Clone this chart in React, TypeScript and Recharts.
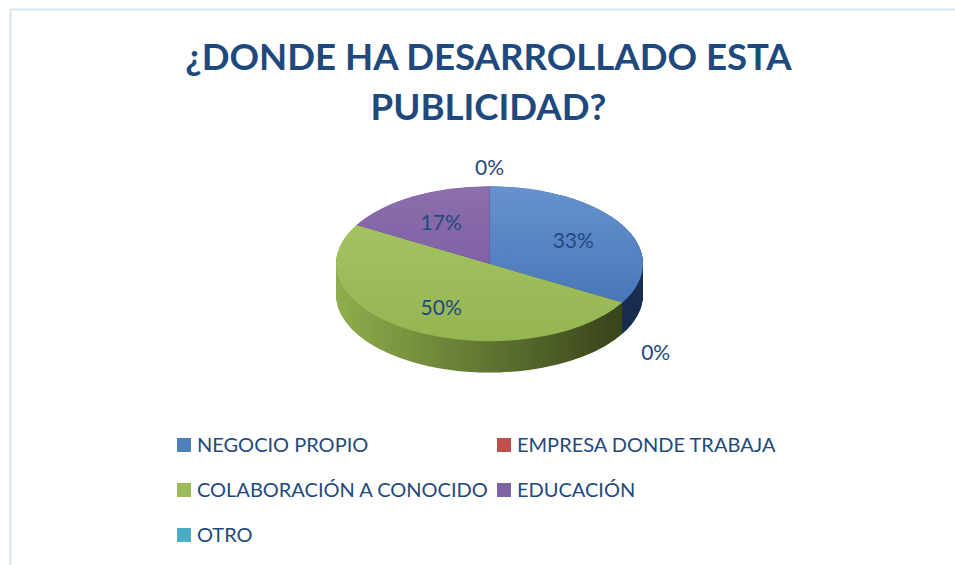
import { PieChart, Pie, Cell } from 'recharts';

const categories = ['NEGOCIO PROPIO', 'EMPRESA DONDE TRABAJA', 'COLABORACIÓN A CONOCIDO', 'EDUCACIÓN', 'OTRO'];
const responses = [2, 0, 3, 1, 0];
const titleLines = ['¿DONDE HA DESARROLLADO ESTA', 'PUBLICIDAD?'];

const legendColors = ['#4F81BD', '#C0504D', '#9BBB59', '#8064A2', '#4BACC6'];
const topStops = [
  ['#6693CF', '#3E6DB2'],
  ['#D06360', '#A9403D'],
  ['#A8C665', '#95B553'],
  ['#8C6FAD', '#74539F'],
  ['#5DBAD2', '#3A9AB3'],
];
const wallStops = [
  ['#24406B', '#172C4E'],
  ['#8E3432', '#6A2523'],
  ['#8FAE4C', '#3A461B'],
  ['#5B4480', '#3E2D5A'],
  ['#348BA2', '#22687A'],
];

const data = categories.map((name, i) => ({ name, value: responses[i] }));

// geometry of the fake 3D pie (unscaled units, the whole chart is squashed by K)
const K = 0.505;
const CX = 489.5;
const CY = 350;
const R = 153.5;
const DEPTH = 62;
const TOP = 264.2 - CY * K;
const layers: number[] = [];
for (let d = DEPTH; d > 0; d -= 1.5) layers.push(d);

const TEXT = '#1F497D';
const FONT = 'Lato, "Open Sans", sans-serif';

const renderLabel = (p: any) => {
  const a = (p.midAngle * Math.PI) / 180;
  const zero = p.value === 0;
  const f = zero ? 1.25 : 0.63;
  const x = p.cx + p.outerRadius * f * Math.cos(a);
  let y = p.cy - p.outerRadius * f * Math.sin(a);
  if (zero && Math.sin(a) < -0.1) y += DEPTH * 1.25;
  return (
    <text
      key={p.index}
      x={x}
      y={y}
      transform={`translate(${x} ${y}) scale(1 ${1 / K}) translate(${-x} ${-y})`}
      textAnchor="middle"
      dominantBaseline="central"
      fill={TEXT}
      fontFamily={FONT}
      fontSize={21}
    >
      {Math.round(p.percent * 100)}%
    </text>
  );
};

export default function App() {
  return (
    <div style={{ position: 'absolute', left: 0, top: 0, width: 955, height: 565, background: '#fff', overflow: 'hidden' }}>
      <div style={{ position: 'absolute', left: 0, top: TOP, width: 955, height: 700, transform: `scaleY(${K})`, transformOrigin: '0 0' }}>
        <PieChart width={955} height={700} margin={{ top: 0, right: 0, bottom: 0, left: 0 }}>
          <defs>
            {topStops.map((s, i) => (
              <linearGradient key={'t' + i} id={'top' + i} gradientUnits="userSpaceOnUse" x1={0} y1={CY - R} x2={0} y2={CY + R}>
                <stop offset="0%" stopColor={s[0]} />
                <stop offset="100%" stopColor={s[1]} />
              </linearGradient>
            ))}
            {wallStops.map((s, i) => (
              <linearGradient key={'w' + i} id={'wall' + i} gradientUnits="userSpaceOnUse" x1={CX - R} y1={0} x2={CX + R * 0.8} y2={0}>
                <stop offset="0%" stopColor={s[0]} />
                <stop offset="100%" stopColor={s[1]} />
              </linearGradient>
            ))}
          </defs>
          {layers.map((d) => (
            <Pie
              key={'layer' + d}
              data={data}
              dataKey="value"
              cx={CX}
              cy={CY + d}
              outerRadius={R}
              startAngle={90}
              endAngle={-270}
              stroke="none"
              label={false}
              labelLine={false}
              isAnimationActive={false}
            >
              {data.map((_, i) => (
                <Cell key={i} fill={`url(#wall${i})`} />
              ))}
            </Pie>
          ))}
          <Pie
            data={data}
            dataKey="value"
            cx={CX}
            cy={CY}
            outerRadius={R}
            startAngle={90}
            endAngle={-270}
            stroke="none"
            label={renderLabel}
            labelLine={false}
            isAnimationActive={false}
          >
            {data.map((_, i) => (
              <Cell key={i} fill={`url(#top${i})`} />
            ))}
          </Pie>
        </PieChart>
      </div>
      <svg width={955} height={565} style={{ position: 'absolute', left: 0, top: 0, pointerEvents: 'none' }}>
        <path d="M10.5 565 V9.5 H955" fill="none" stroke="#DAE4F1" strokeWidth={2} />
        {titleLines.map((t, i) => (
          <text key={t} x={488.5} y={70 + i * 50} textAnchor="middle" fill={TEXT} fontFamily={FONT} fontWeight={700} fontSize={36.6}>
            {t}
          </text>
        ))}
        {categories.map((c, i) => {
          const x = [177, 497][i % 2];
          const y = 445 + Math.floor(i / 2) * 45;
          return (
            <g key={c}>
              <rect x={x} y={y - 7} width={14} height={14} fill={legendColors[i]} />
              <text x={x + 20} y={y + 7} fill={TEXT} fontFamily={FONT} fontSize={20}>
                {c}
              </text>
            </g>
          );
        })}
      </svg>
    </div>
  );
}
